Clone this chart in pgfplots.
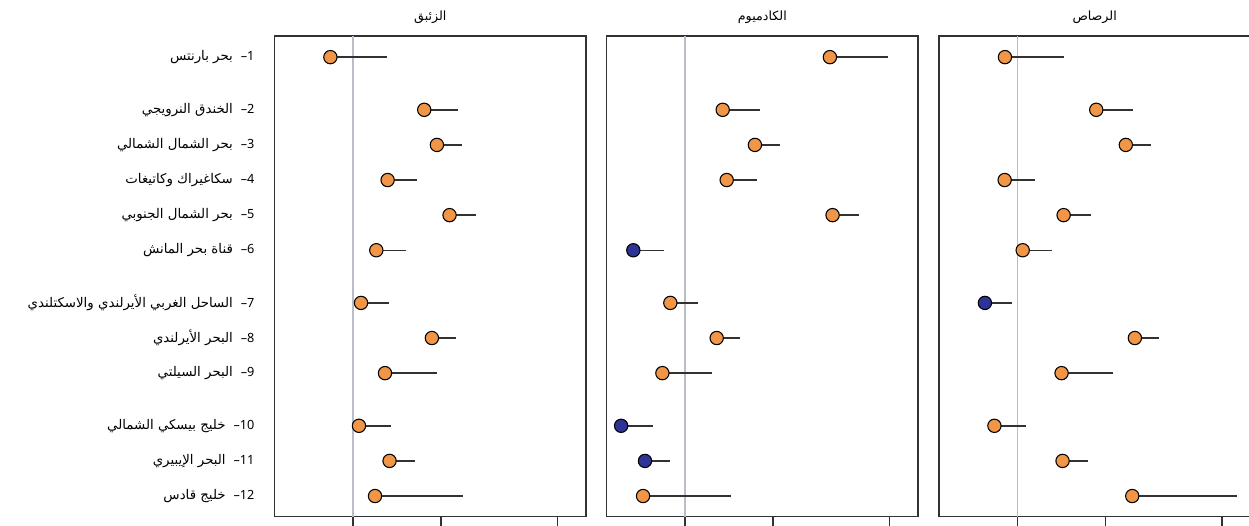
\documentclass[border=0pt]{standalone}
\usepackage{fontspec}
\setmainfont{Noto Sans}
\newfontfamily\arabicfont[Script=Arabic]{DejaVu Sans}
\TeXXeTstate=1
\usepackage{pgfplots}
\usepackage{pgfplotstable}
\pgfplotsset{compat=1.18}
\definecolor{orng}{RGB}{240,150,70}
\definecolor{blu}{RGB}{45,52,150}
\definecolor{refl}{RGB}{185,189,197}
\definecolor{axc}{RGB}{50,50,50}

% Mercury
\pgfplotstableread{
y v hi c
0 0.837 1.306 o
1.5 1.751 2.288 o
2.5 1.935 2.355 o
3.5 1.313 1.649 o
4.5 2.137 2.635 o
5.5 1.201 1.520 o
7 1.065 1.323 o
8 1.860 2.252 o
9 1.286 1.929 o
10.5 1.048 1.348 o
11.5 1.333 1.628 o
12.5 1.189 2.374 o
}\hgdata
% Cadmium
\pgfplotstableread{
y v hi c
0 3.126 4.918 o
1.5 1.345 1.807 o
2.5 1.733 2.105 o
3.5 1.388 1.765 o
4.5 3.192 3.936 o
5.5 0.666 0.846 b
7 0.891 1.105 o
8 1.283 1.545 o
9 0.837 1.240 o
10.5 0.605 0.776 b
11.5 0.730 0.889 b
12.5 0.719 1.432 o
}\cddata
% Lead
\pgfplotstableread{
y v hi c
0 0.907 1.442 o
1.5 1.860 2.480 o
2.5 2.347 2.851 o
3.5 0.905 1.152 o
4.5 1.439 1.779 o
5.5 1.043 1.317 o
7 0.775 0.958 b
8 2.520 3.052 o
9 1.416 2.115 o
10.5 0.835 1.070 o
11.5 1.427 1.747 o
12.5 2.469 5.633 o
}\pbdata

\newcommand{\lab}[2]{{\arabicfont\fontsize{10}{12}\selectfont #1}\hspace{6pt}–#2}

\pgfplotsset{
  mypanel/.style={
    scale only axis, width=233.5pt, height=360.5pt, anchor=south west,
    xmin=0.54, xmax=6.25,
    ymin=-0.6, ymax=13.09, y dir=reverse,
    xtick={1,2,5}, xticklabels={}, xminorticks=false,
    xtick pos=bottom, tick align=outside, major tick length=7pt,
    x tick style={axc, line width=1pt},
    ytick=\empty,
    axis line style={axc, line width=1pt},
    title style={at={(0.5,1)}, anchor=center, yshift=8.25pt,
      font=\arabicfont\fontsize{9.5}{11}\selectfont},
    clip=false,
  },
  mydots/.style={
    scatter, only marks, scatter src=explicit symbolic,
    mark size=5pt,
    scatter/classes={
      o={mark=*, fill=orng, draw=black, line width=0.8pt},
      b={mark=*, fill=blu, draw=black, line width=0.8pt}},
    error bars/x dir=plus, error bars/x explicit, error bars/error mark=none,
    error bars/error bar style={line width=1.1pt, color=axc},
  },
}

\begin{document}
\begin{tikzpicture}
\path[use as bounding box] (0,0) rectangle (936.75pt,393.75pt);

\begin{semilogxaxis}[mypanel, at={(206pt,6.2pt)}, title={\beginR الزئبق\endR},
  ytick={0,1.5,2.5,3.5,4.5,5.5,7,8,9,10.5,11.5,12.5},
  y tick style={draw=none},
  yticklabel style={anchor=east, inner sep=0pt, xshift=-8pt,
    font=\fontsize{9.5}{11}\selectfont},
  yticklabels={
    \lab{\beginR بحر بارنتس\endR}{1},
    \lab{\beginR الخندق النرويجي\endR}{2},
    \lab{\beginR بحر الشمال الشمالي\endR}{3},
    \lab{\beginR سكاغيراك وكاتيغات\endR}{4},
    \lab{\beginR بحر الشمال الجنوبي\endR}{5},
    \lab{\beginR قناة بحر المانش\endR}{6},
    \lab{\beginR الساحل الغربي الأيرلندي والاسكتلندي\endR}{7},
    \lab{\beginR البحر الأيرلندي\endR}{8},
    \lab{\beginR البحر السيلتي\endR}{9},
    \lab{\beginR خليج بيسكي الشمالي\endR}{10},
    \lab{\beginR البحر الإيبيري\endR}{11},
    \lab{\beginR خليج قادس\endR}{12}},
]
\addplot[refl, line width=0.9pt, forget plot] coordinates {(1,-0.6) (1,13.09)};
\addplot[mydots] table[x=v, y=y, meta=c, x error plus expr=\thisrow{hi}-\thisrow{v}] {\hgdata};
\end{semilogxaxis}

\begin{semilogxaxis}[mypanel, at={(455pt,6.2pt)}, title={\beginR الكادميوم\endR}]
\addplot[refl, line width=0.9pt, forget plot] coordinates {(1,-0.6) (1,13.09)};
\addplot[mydots] table[x=v, y=y, meta=c, x error plus expr=\thisrow{hi}-\thisrow{v}] {\cddata};
\end{semilogxaxis}

\begin{semilogxaxis}[mypanel, at={(704.25pt,6.2pt)}, title={\beginR الرصاص\endR}]
\addplot[refl, line width=0.9pt, forget plot] coordinates {(1,-0.6) (1,13.09)};
\addplot[mydots] table[x=v, y=y, meta=c, x error plus expr=\thisrow{hi}-\thisrow{v}] {\pbdata};
\end{semilogxaxis}
\end{tikzpicture}
\end{document}
